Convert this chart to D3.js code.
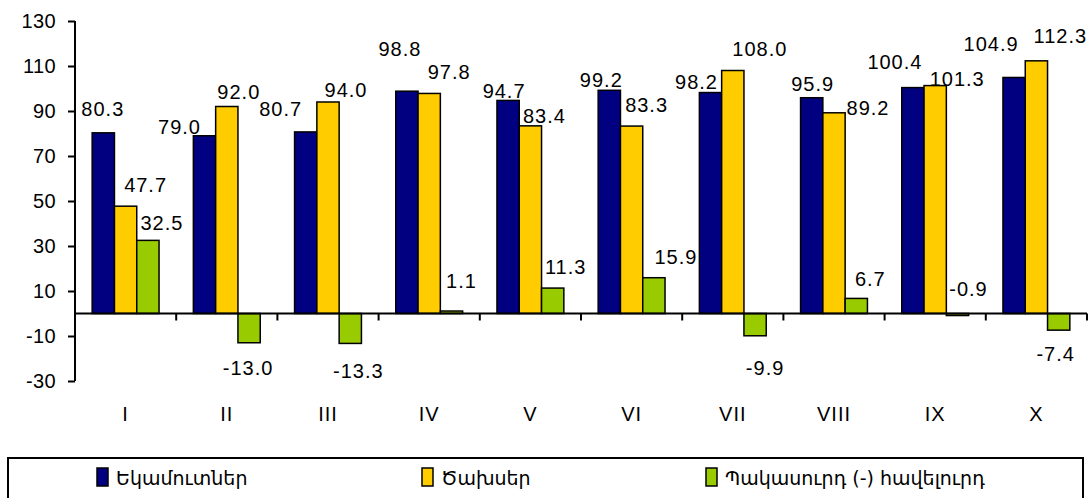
<!DOCTYPE html>
<html><head><meta charset="utf-8">
<script src="https://cdn.jsdelivr.net/npm/d3@7"></script>
<style>
html,body{margin:0;padding:0;background:#fff;}
svg{display:block;}
</style></head>
<body>
<svg id="chart" width="1092" height="498"></svg>
<script>
// ---- data ----
const categories = ["I","II","III","IV","V","VI","VII","VIII","IX","X"];
const seriesNames = ["Եկամուտներ","Ծախսեր","Պակասուրդ (-) հավելուրդ"];
const revenues = [80.3,79.0,80.7,98.8,94.7,99.2,98.2,95.9,100.4,104.9];
const expenses = [47.7,92.0,94.0,97.8,83.4,83.3,108.0,89.2,101.3,112.3];
const balance  = [32.5,-13.0,-13.3,1.1,11.3,15.9,-9.9,6.7,-0.9,-7.4];
const yTicks = [-30,-10,10,30,50,70,90,110,130];

// label placement nudges (dx from bar centre, dy from bar end), per series
const labelNudges = [
  [[-0.5,-17],[-25,-2],[-25,-16],[-7,-35],[-4,-2],[-8,-3],[-14,-4],[1,-7],[-18,-19],[-23,-26]],
  [[20,-14],[12,-7.5],[18,-5],[20,-14],[14,-2.5],[15,-14],[27,-15],[34,2],[22,0],[24,-18]],
  [[14,-10],[-1,32],[8,35],[10,-23],[13,-14],[22,-14],[10,39],[14,-12],[11,-20],[-3,31]]
];
const colors = ["#000080","#FFCC00","#99CC00"];

const values = [revenues, expenses, balance];
const svg = d3.select("#chart");
const font = "'Liberation Sans', Arial, sans-serif";
const hy = s => s.replace(/\u2212/g, "-");
const fmt1 = d => hy(d3.format(".1f")(d));
const fmt0 = d => hy(d3.format("d")(d));

const x0 = d3.scaleBand().domain(categories).range([75, 1087]).paddingInner(0).paddingOuter(0);
const x1 = d3.scaleBand().domain(d3.range(3)).range([0, x0.bandwidth()]).paddingInner(0).paddingOuter(0.77);
const y = d3.scaleLinear().domain([-30, 130]).range([381, 21]);

// bars
values.forEach((vals, s) => {
  svg.append("g").selectAll("rect").data(vals).join("rect")
    .attr("x", (d,i) => x0(categories[i]) + x1(s))
    .attr("width", x1.bandwidth())
    .attr("y", d => y(Math.max(0,d)))
    .attr("height", d => Math.abs(y(d) - y(0)))
    .attr("fill", colors[s])
    .attr("stroke", "#000")
    .attr("stroke-width", 1.5);
});

// y axis
const yAxis = d3.axisLeft(y).tickValues(yTicks).tickSize(7).tickPadding(12).tickFormat(fmt0);
const gy = svg.append("g").attr("transform", "translate(75,0)").call(yAxis);
gy.select(".domain").attr("stroke","#000").attr("stroke-width",2).attr("d","M0,21V381");
gy.selectAll(".tick line").attr("stroke","#000").attr("stroke-width",2);
gy.selectAll(".tick text").attr("font-family",font).attr("font-size",20).attr("fill","#000").attr("letter-spacing","0.4px");

// zero line (category axis)
const xAxis = d3.axisBottom(x0).tickSize(0).tickFormat("");
const gx = svg.append("g").attr("transform", `translate(0,${y(0)})`).call(xAxis);
gx.select(".domain").attr("stroke","#000").attr("stroke-width",2).attr("d",`M75,0H1087`);
// boundary ticks
svg.append("g").selectAll("line").data(categories).join("line")
  .attr("x1", d => x0(d) + x0.bandwidth()).attr("x2", d => x0(d) + x0.bandwidth())
  .attr("y1", y(0)).attr("y2", y(0) + 7)
  .attr("stroke","#000").attr("stroke-width",2);
// category labels
svg.append("g").selectAll("text").data(categories).join("text")
  .attr("x", d => x0(d) + x0.bandwidth()/2)
  .attr("y", 421)
  .attr("text-anchor","middle")
  .attr("font-family",font).attr("font-size",20).attr("letter-spacing","1px")
  .text(d => d);

// data labels
values.forEach((vals, s) => {
  svg.append("g").selectAll("text").data(vals).join("text")
    .attr("x", (d,i) => x0(categories[i]) + x1(s) + x1.bandwidth()/2 + labelNudges[s][i][0])
    .attr("y", (d,i) => y(d) + labelNudges[s][i][1])
    .attr("text-anchor","middle")
    .attr("font-family",font).attr("font-size",20).attr("letter-spacing","1px")
    .attr("fill","#000")
    .text(fmt1);
});

// legend
const lg = svg.append("g");
lg.append("rect").attr("x",8).attr("y",458).attr("width",1075).attr("height",60)
  .attr("fill","#fff").attr("stroke","#000").attr("stroke-width",2);
const legendX = [97, 422, 706];
seriesNames.forEach((name, s) => {
  lg.append("rect").attr("x",legendX[s]).attr("y",468).attr("width",11).attr("height",18)
    .attr("fill",colors[s]).attr("stroke","#000").attr("stroke-width",1.5);
  lg.append("text").attr("x",legendX[s]+19).attr("y",485)
    .attr("font-family","'DejaVu Sans',sans-serif").attr("font-size",19)
    .text(name);
});
</script>
</body></html>
